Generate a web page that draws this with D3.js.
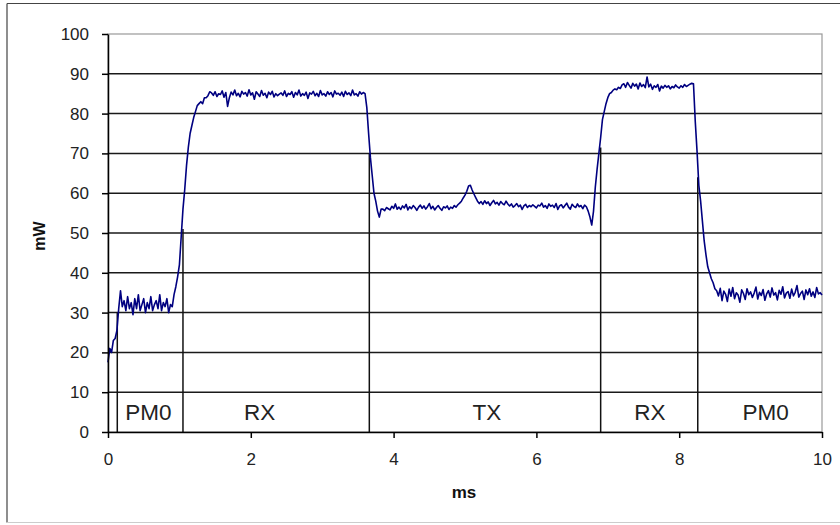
<!DOCTYPE html>
<html>
<head>
<meta charset="utf-8">
<script src="https://cdn.jsdelivr.net/npm/d3@7/dist/d3.min.js"></script>
<style>
  html, body { margin: 0; padding: 0; background: #fff; }
  svg { display: block; font-family: "Liberation Sans", Arial, sans-serif; }
</style>
</head>
<body>
<svg id="chart" width="840" height="525"></svg>
<script>
// ---- data ----
const sampleIntervalMs = 0.025;           // samples are evenly spaced in time
const powerMw = [
  17.5, 21, 20, 23, 23.5, 25.5, 31, 35.5,
  31.5, 33, 30.5, 34, 31, 32.5, 29.5, 33.5, 31, 34.5,
  30.5, 32, 33.5, 30, 32.5, 31, 34, 30.5, 32, 33,
  31, 34.5, 30.5, 32.5, 31.5, 33.5, 30, 32, 31.5,
  34.5, 36.5, 39, 42, 49, 56, 61, 67, 71.5, 75,
  77, 79, 80.5, 82, 82.5, 83, 82.5, 84, 84, 84.5, 85.5,
  85.2, 84.6, 85.5, 84.3, 85.0, 84.8, 85.7, 84.1, 85.3, 81.8,
  84.0, 85.4, 84.7, 85.9, 84.5, 85.1, 84.2, 85.6, 84.9, 85.3,
  84.4, 86.0, 84.7, 85.2, 83.6, 85.5, 84.9, 84.3, 85.8, 84.6,
  85.1, 84.0, 85.4, 84.8, 85.6, 84.2, 85.0, 84.5, 84.9, 85.2,
  84.6, 85.7, 84.3, 85.1, 84.8, 85.5, 84.1, 85.3, 84.7, 85.9,
  84.4, 85.0, 84.6, 85.4, 83.8, 85.2, 84.9, 85.6, 84.5, 85.1,
  84.3, 85.8, 84.7, 85.0, 84.4, 85.5, 84.8, 85.3, 84.2, 85.7,
  84.9, 85.1, 84.6, 85.4, 84.3, 85.6, 84.8, 85.2, 84.5, 85.9,
  84.7, 85.0, 84.4, 85.5, 84.9, 85.3, 85.0,
  81.5, 75, 69, 64.5, 60, 58, 55.5, 54, 56,
  56.0, 55.6, 56.4, 56.1, 55.8, 56.7, 56.2, 57.3, 56.0, 56.5,
  55.9, 56.8, 56.3, 57.2, 55.8, 56.6, 56.1, 56.9, 56.4, 55.7,
  56.5, 57.0, 56.2, 56.8, 56.0, 56.6, 57.4, 56.1, 56.7, 55.8,
  56.4, 56.9, 56.2, 55.7, 56.6, 56.3, 56.8, 55.9, 56.5, 56.2,
  56.9, 56.5, 57.1,
  57.5, 58, 58.8, 59.5, 60.5, 61.8, 62, 60.8, 59.8, 58.9, 58, 57.4,
  57.9, 57.2, 58.1, 57.4, 57.8, 56.9, 57.6, 58.2, 57.3, 57.7,
  57.0, 57.9, 57.4, 57.1, 58.0, 57.3,
  56.8, 57.3, 56.5, 56.9, 57.4, 56.6, 57.0, 55.9, 56.8, 57.2,
  56.4, 56.9, 56.6, 57.1, 56.7, 56.3, 57.0, 56.8, 57.5, 56.5,
  56.9, 56.2, 57.3, 56.7, 57.0, 56.4, 57.4, 55.9, 56.8, 57.1,
  56.3, 56.9, 57.5, 56.5, 56.0, 57.2, 56.7, 56.4, 57.3, 56.6,
  56.9, 56.1, 57.0, 56.6,
  55.5, 54, 52, 55.5, 61.5, 66, 70, 74, 78.5, 80.5,
  82.5, 84, 85, 85.3, 85.9, 86.2, 86.0, 86.6, 86.3, 87.2,
  87.5, 86.6, 87.8, 87.1, 86.4, 87.6, 86.9, 87.4, 86.2, 87.7,
  86.8, 87.3, 86.5, 89.2, 86.7, 87.4, 86.1, 87.0, 86.6, 87.3,
  85.7, 86.9, 86.4, 87.1, 86.6, 87.0, 86.2, 86.8, 86.5, 87.2,
  86.7, 86.4, 87.0, 86.6, 87.3, 86.8, 87.1, 87.4, 87.6, 87.5,
  78, 70.5, 62, 58, 53, 48, 44.5, 41.5, 40, 38.5, 37.5, 36, 35.5,
  34.2, 36.1, 33.0, 35.4, 34.6, 32.8, 35.9, 34.1, 36.3, 33.5,
  35.0, 34.4, 32.6, 35.7, 34.8, 33.3, 36.0, 34.5, 35.2, 33.8,
  34.9, 36.4, 33.4, 35.1, 34.3, 35.8, 33.1, 34.7, 35.5, 33.9,
  36.2, 34.4, 35.0, 33.2, 35.6, 34.6, 36.5, 33.7, 34.9, 35.3,
  33.6, 35.9, 34.2, 35.1, 36.8, 33.9, 34.8, 35.4, 33.3, 35.7,
  34.5, 36.0, 34.1, 35.2, 33.8, 36.3, 34.7, 35.0, 34.4
];

// state boundaries (ms) and the power where each drop line meets the trace
const boundaryMs = [0.13, 1.05, 3.66, 6.90, 8.26];
const boundaryMw = [30, 51, 70, 71.5, 64];

// state labels and their positions along the time axis
const stateNames = ["PM0", "RX", "TX", "RX", "PM0"];
const stateLabelMs = [0.565, 2.125, 5.305, 7.59, 9.21];

const xTicks = [0, 2, 4, 6, 8, 10];
const yTicks = [0, 10, 20, 30, 40, 50, 60, 70, 80, 90, 100];
const xTitle = "ms";
const yTitle = "mW";

// ---- drawing ----
const svg = d3.select("#chart");
const plotLeft = 108, plotRight = 822, plotTop = 34, plotBottom = 432;

const x = d3.scaleLinear().domain([0, 10]).range([plotLeft, plotRight]);
const y = d3.scaleLinear().domain([0, 100]).range([plotBottom, plotTop]);

// outer chart frame
svg.append("line").attr("x1", 7).attr("x2", 7).attr("y1", 3.5).attr("y2", 522.5)
  .attr("stroke", "#444").attr("stroke-width", 1.2);
svg.append("line").attr("x1", 7).attr("x2", 840).attr("y1", 3.5).attr("y2", 3.5)
  .attr("stroke", "#444").attr("stroke-width", 1.2);
svg.append("line").attr("x1", 7).attr("x2", 840).attr("y1", 522.5).attr("y2", 522.5)
  .attr("stroke", "#ccc").attr("stroke-width", 1.2);

// plot area border (grey)
svg.append("rect")
  .attr("x", plotLeft).attr("y", plotTop)
  .attr("width", plotRight - plotLeft).attr("height", plotBottom - plotTop)
  .attr("fill", "none").attr("stroke", "#999").attr("stroke-width", 1.2);

// horizontal gridlines
svg.append("g").selectAll("line")
  .data(yTicks.filter(v => v > 0 && v < 100))
  .join("line")
  .attr("x1", plotLeft).attr("x2", plotRight)
  .attr("y1", d => y(d)).attr("y2", d => y(d))
  .attr("stroke", "#1a1a1a").attr("stroke-width", 1.5);

// drop lines at state boundaries
svg.append("g").selectAll("line")
  .data(boundaryMs)
  .join("line")
  .attr("x1", d => x(d)).attr("x2", d => x(d))
  .attr("y1", y(0)).attr("y2", (d, i) => y(boundaryMw[i]))
  .attr("stroke", "#111").attr("stroke-width", 1.5);

// trace
const line = d3.line()
  .x((d, i) => x(i * sampleIntervalMs))
  .y(d => y(d));
svg.append("path")
  .datum(powerMw)
  .attr("d", line)
  .attr("fill", "none")
  .attr("stroke", "#000080")
  .attr("stroke-width", 1.6)
  .attr("stroke-linejoin", "round");

// axes
const yAxis = d3.axisLeft(y).tickValues(yTicks).tickSize(6).tickSizeOuter(0).tickPadding(13);
const gy = svg.append("g").attr("transform", `translate(${plotLeft},0)`).call(yAxis);
const xAxis = d3.axisBottom(x).tickValues(xTicks).tickSize(6).tickSizeOuter(0).tickPadding(15)
  .tickFormat(d3.format("d"));
const gx = svg.append("g").attr("transform", `translate(0,${plotBottom})`).call(xAxis);

[gx, gy].forEach(g => {
  g.select(".domain").attr("stroke", "#000").attr("stroke-width", 1.5);
  g.selectAll(".tick line").attr("stroke", "#000").attr("stroke-width", 1.5);
  g.selectAll(".tick text")
    .attr("fill", "#222")
    .style("font-family", "'Liberation Sans', Arial, sans-serif")
    .style("font-size", "17px");
});

// state labels
svg.append("g").selectAll("text")
  .data(stateNames)
  .join("text")
  .attr("x", (d, i) => x(stateLabelMs[i]))
  .attr("y", y(0) - 12)
  .attr("text-anchor", "middle")
  .attr("fill", "#222")
  .style("font-size", "22.5px")
  .text(d => d);

// axis titles
svg.append("text")
  .attr("x", 464).attr("y", 498)
  .attr("text-anchor", "middle")
  .style("font-size", "17px").style("font-weight", "bold")
  .attr("fill", "#111")
  .text(xTitle);

svg.append("text")
  .attr("transform", "translate(45,236) rotate(-90)")
  .attr("text-anchor", "middle")
  .style("font-size", "16px").style("font-weight", "bold")
  .attr("fill", "#111")
  .text(yTitle);
</script>
</body>
</html>
